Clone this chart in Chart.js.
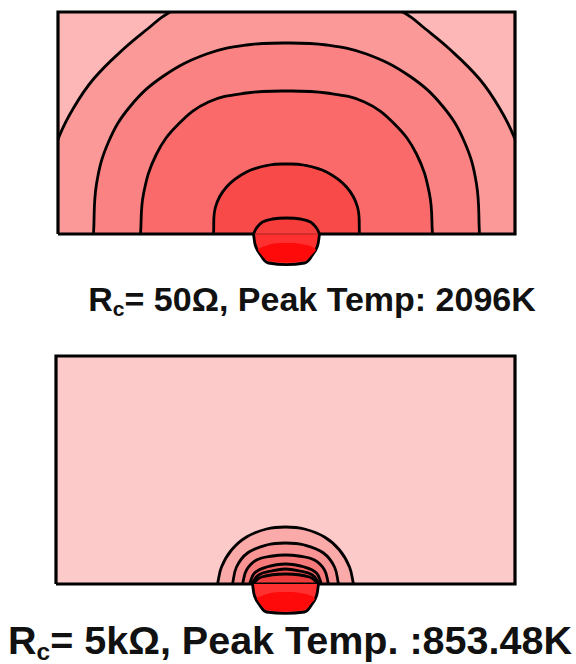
<!DOCTYPE html>
<html>
<head>
<meta charset="utf-8">
<script src="https://cdn.jsdelivr.net/npm/chart.js@4"></script>
<style>
  body { margin: 0; background: #fff; width: 576px; height: 664px; position: relative; overflow: hidden; }
  .panel { position: absolute; }
  .cap { position: absolute; white-space: nowrap; font-family: "Liberation Sans", Arial, sans-serif; font-weight: bold; color: #111; line-height: 1; text-align: center; }
  .cap .s { font-size: 0.62em; position: relative; top: 0.25em; }
</style>
</head>
<body>

<div class="panel" style="left:54px; top:8px;"><canvas id="topChart" width="465" height="262"></canvas></div>
<div class="cap" style="left:24px; width:576px; top:282px; font-size:34px;">R<span class="s">c</span>= 50Ω, Peak Temp: 2096K</div>

<div class="panel" style="left:52px; top:352px;"><canvas id="botChart" width="467" height="266"></canvas></div>
<div class="cap" style="left:2px; width:576px; top:621px; font-size:39.5px;">R<span class="s">c</span>= 5kΩ, Peak Temp. :853.48K</div>

<script>
// coordinates: x measured from the contact centre, y up from the contact line (0)

// ---- Rc = 50 ohm ----
const topBox = [[-228.5, 0], [-228.5, 222], [228.5, 222], [228.5, 0], [-228.5, 0]];
// outer isotherm runs past the box edges and is clipped by it
const topIso1 = [[-249, 0], [-243, 50], [-228, 96], [-213, 126], [-193, 155], [-163, 185], [-139, 205], [-118, 221],
                 [-80, 237], [-40, 247], [0, 250], [40, 247], [80, 237], [118, 221], [139, 205], [163, 185],
                 [193, 155], [213, 126], [228, 96], [243, 50], [249, 0]];
const topIso2 = [[-193, 0], [-190, 50], [-178, 92], [-156, 128], [-123, 158], [-80, 180], [-40, 189], [0, 191],
                 [40, 189], [80, 180], [123, 158], [156, 128], [178, 92], [190, 50], [193, 0]];
const topIso3 = [[-146, 0], [-143, 40], [-130, 80], [-108, 110], [-78, 132], [-40, 141], [0, 143],
                 [40, 141], [78, 132], [108, 110], [130, 80], [143, 40], [146, 0]];
const topIso4 = [[-73, 0], [-71, 27], [-60, 47], [-40, 62], [-17, 69], [0, 70],
                 [17, 69], [40, 62], [60, 47], [71, 27], [73, 0]];
const topDome = [[-33, 0], [-30, 6], [-24, 12], [-14, 15], [0, 16], [14, 15], [24, 12], [30, 6], [33, 0]];
const topCup = [[-33, 0], [-31, -12], [-26, -21], [-18, -29], [18, -29], [26, -21], [31, -12], [33, 0]];
const topCore = [[-29, -15], [-15, -10], [0, -9], [15, -10], [29, -15], [25, -21], [17, -27], [-17, -27], [-25, -21], [-29, -15]];
const topSeam = [[-32, 0], [32, 0]];
const topColors = ['#fdb7b7', '#fb9999', '#fa8282', '#fa6a6a', '#f94a4a', '#f73c3c', '#ff3030', '#ff0a0a'];

// ---- Rc = 5 kohm ----
const botBox = [[-229.5, 0], [-229.5, 228], [229.5, 228], [229.5, 0], [-229.5, 0]];
const botIso1 = [[-68, 0], [-64, 17], [-54, 34], [-39, 47], [-19, 55], [0, 57], [19, 55], [39, 47], [54, 34], [64, 17], [68, 0]];
const botIso2 = [[-53, 0], [-49, 17], [-38, 31], [-19, 39], [0, 41], [19, 39], [38, 31], [49, 17], [53, 0]];
const botIso3 = [[-43, 0], [-39, 14], [-29, 24], [-13, 28], [0, 29], [13, 28], [29, 24], [39, 14], [43, 0]];
const botIso4 = [[-36, 0], [-31, 11], [-19, 17], [0, 20], [19, 17], [31, 11], [36, 0]];
const botIso5 = [[-34, 0], [-27, 9], [-14, 13], [0, 15], [14, 13], [27, 9], [34, 0]];
const botIso6 = [[-33, 0], [-24, 7], [0, 10], [24, 7], [33, 0]];
const botCup = [[-33, 0], [-31, -12], [-26, -21], [-19, -28], [19, -28], [26, -21], [31, -12], [33, 0]];
const botCore = [[-29, -14], [-15, -9], [0, -8], [15, -9], [29, -14], [25, -20], [18, -26], [-18, -26], [-25, -20], [-29, -14]];
const botColors = ['#fdcaca', '#fbaaaa', '#f99494', '#f77a7a', '#f46262', '#f04c4c', '#ee3c3c', '#ff3030', '#ff0a0a'];

function pts(arr) {
  return arr.map(p => ({ x: p[0], y: p[1] }));
}

function region(arr, color, order, fillMode) {
  return {
    data: pts(arr),
    showLine: true,
    fill: fillMode || 'origin',
    backgroundColor: color,
    borderColor: '#000',
    borderWidth: 2.8,
    tension: 0.4,
    pointRadius: 0,
    pointHoverRadius: 0,
    clip: fillMode === 'shape' ? false : 0,
    order: order
  };
}

function core(arr, color) {
  return { data: pts(arr), showLine: true, fill: 'shape', backgroundColor: color, borderWidth: 0, borderColor: 'rgba(0,0,0,0)',
           tension: 0.4, pointRadius: 0, clip: false, order: 0 };
}
function seam(arr) {
  return { data: pts(arr), showLine: true, fill: false, borderColor: 'rgba(110,20,20,0.55)', borderWidth: 1,
           tension: 0, pointRadius: 0, clip: false, order: 0 };
}
function boxFill(arr, color) {
  return { data: pts(arr), showLine: true, fill: 'shape', backgroundColor: color, borderWidth: 0, borderColor: 'rgba(0,0,0,0)',
           tension: 0, pointRadius: 0, clip: false, order: 20 };
}
function boxLine(arr) {
  return { data: pts(arr), showLine: true, fill: false, borderColor: '#000', borderWidth: 3.2, borderJoinStyle: 'miter',
           tension: 0, pointRadius: 0, clip: false, order: 3 };
}

function makeChart(id, datasets, xr, ymin, ymax) {
  return new Chart(document.getElementById(id), {
    type: 'scatter',
    data: { datasets: datasets },
    options: {
      responsive: false,
      animation: false,
      events: [],
      layout: { padding: 4 },
      plugins: { legend: { display: false }, tooltip: { enabled: false } },
      scales: {
        x: { type: 'linear', min: -xr, max: xr, display: false },
        y: { type: 'linear', min: ymin, max: ymax, display: false }
      }
    }
  });
}

makeChart('topChart', [
  boxFill(topBox, topColors[0]),
  region(topIso1, topColors[1], 10),
  region(topIso2, topColors[2], 9),
  region(topIso3, topColors[3], 8),
  region(topIso4, topColors[4], 7),
  boxLine(topBox),
  region(topDome, topColors[5], 2),
  region(topCup, topColors[6], 1, 'shape'),
  core(topCore, topColors[7]),
  seam(topSeam)
], 228.5, -32, 222);

makeChart('botChart', [
  boxFill(botBox, botColors[0]),
  region(botIso1, botColors[1], 10),
  region(botIso2, botColors[2], 9),
  region(botIso3, botColors[3], 8),
  region(botIso4, botColors[4], 7),
  region(botIso5, botColors[5], 6),
  region(botIso6, botColors[6], 5),
  boxLine(botBox),
  region(botCup, botColors[7], 1, 'shape'),
  core(botCore, botColors[8])
], 229.5, -30, 228);
</script>
</body>
</html>
